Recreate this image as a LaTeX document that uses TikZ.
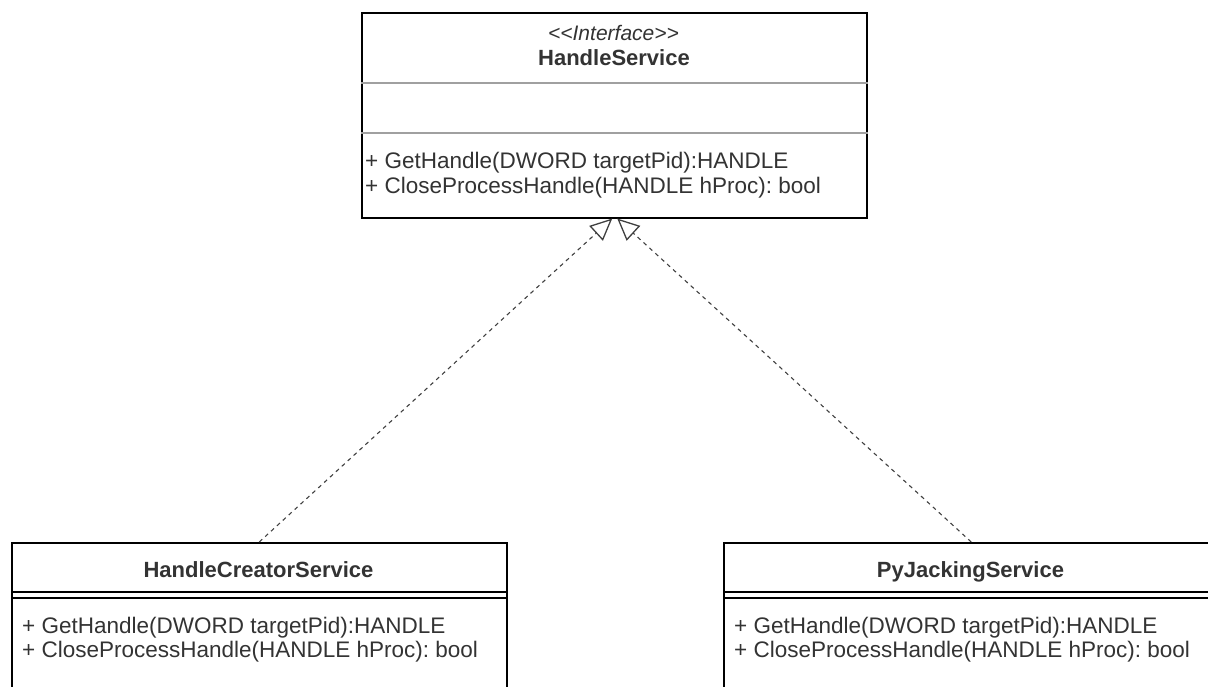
\documentclass[tikz,border=0pt]{standalone}
\usepackage{fontspec}
\setmainfont{Liberation Sans}
\usetikzlibrary{arrows.meta}
\definecolor{inkgray}{HTML}{333333}
\definecolor{rulegray}{HTML}{A0A0A0}
\frenchspacing
\begin{document}
\begin{tikzpicture}[x=1pt,y=-1pt,
  classbox/.style={draw=black, line width=1.5pt, fill=white, inner sep=0pt, anchor=north west},
  txt/.style={font=\fontsize{22.5}{25}\selectfont, text=inkgray, inner sep=0pt},
  optxt/.style={txt, anchor=base west},
  titletxt/.style={txt, anchor=base, font=\fontsize{22}{25}\selectfont\bfseries},
  stereotxt/.style={txt, anchor=base, font=\fontsize{21}{25}\selectfont\itshape},
  softrule/.style={draw=rulegray, line width=1.5pt},
  hardrule/.style={draw=black, line width=1.5pt},
  realizes/.style={draw=black!75, line width=1.1pt, dash pattern=on 4pt off 4pt,
    -{Triangle[open, length=22pt, width=20pt, line width=1.3pt]}}
]
\useasboundingbox (0,0) rectangle (1208,686);
\clip (0,0) rectangle (1208,686);

% interface HandleService
\node[classbox, minimum width=505pt, minimum height=205pt] (hs) at (361,12) {};
\draw[softrule] ([yshift=-71pt]hs.north west) -- ([yshift=-71pt]hs.north east);
\draw[softrule] ([yshift=-121pt]hs.north west) -- ([yshift=-121pt]hs.north east);
\node[stereotxt] (hsstereo) at (613.5,40) {<\kern0pt<Interface>\kern0pt>};
\node[titletxt] (hstitle) at (614,65) {HandleService};
\node[optxt] (hsop1) at (365,168) {+ GetHandle(DWORD targetPid):HANDLE};
\node[optxt] (hsop2) at (365,193) {+ CloseProcessHandle(HANDLE hProc): bool};

% class HandleCreatorService
\node[classbox, minimum width=495pt, minimum height=170pt] (hcs) at (11,542) {};
\draw[hardrule] ([yshift=-50pt]hcs.north west) -- ([yshift=-50pt]hcs.north east);
\draw[hardrule] ([yshift=-56pt]hcs.north west) -- ([yshift=-56pt]hcs.north east);
\node[titletxt] (hcstitle) at (258.5,577) {HandleCreatorService};
\node[optxt] (hcsop1) at (22,633) {+ GetHandle(DWORD targetPid):HANDLE};
\node[optxt] (hcsop2) at (22,657) {+ CloseProcessHandle(HANDLE hProc): bool};

% class PyJackingService
\node[classbox, minimum width=495pt, minimum height=170pt] (pjs) at (723,542) {};
\draw[hardrule] ([yshift=-50pt]pjs.north west) -- ([yshift=-50pt]pjs.north east);
\draw[hardrule] ([yshift=-56pt]pjs.north west) -- ([yshift=-56pt]pjs.north east);
\node[titletxt] (pjstitle) at (970.5,577) {PyJackingService};
\node[optxt] (pjsop1) at (734,633) {+ GetHandle(DWORD targetPid):HANDLE};
\node[optxt] (pjsop2) at (734,657) {+ CloseProcessHandle(HANDLE hProc): bool};

% realization arrows
\draw[realizes] (hcs.north) -- ([xshift=-2pt]hs.south);
\draw[realizes] (pjs.north) -- ([xshift=3pt]hs.south);
\end{tikzpicture}
\end{document}
